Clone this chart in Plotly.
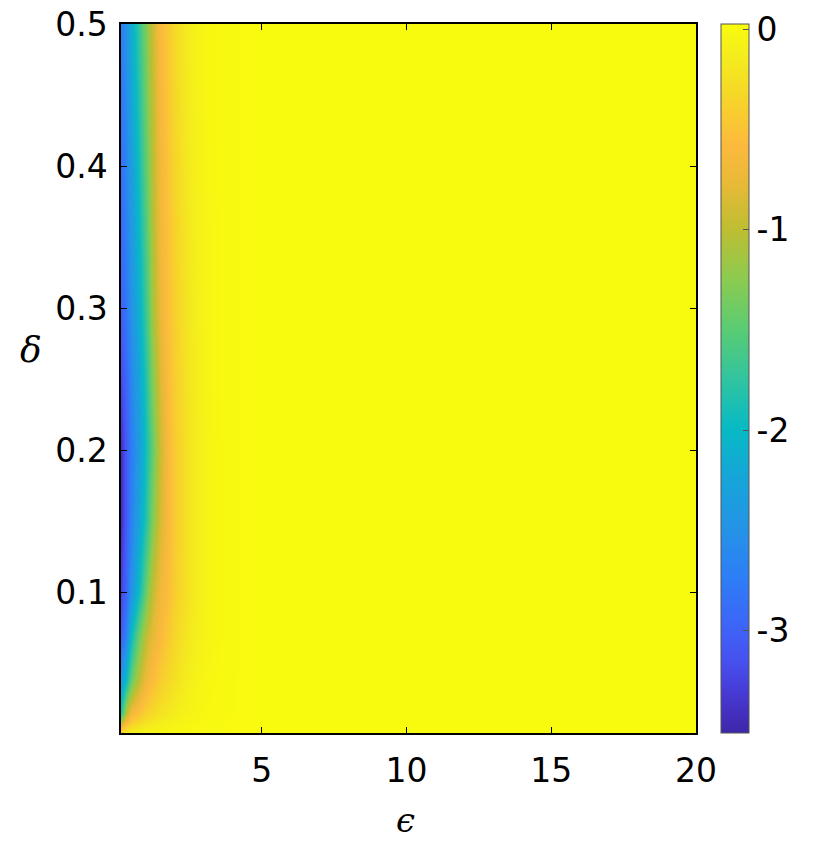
import plotly.graph_objects as go

# epsilon sample positions (x) and delta sample positions (y)
eps = [0.14, 0.3, 0.5, 0.75, 1.0, 1.25, 1.5, 1.75, 2.0, 2.4, 2.8, 3.2, 3.8, 5.0, 20.0]
delta = [0.001, 0.005, 0.015, 0.038, 0.07, 0.1, 0.15, 0.2, 0.25, 0.3, 0.35, 0.4, 0.45, 0.5]

# values, one row per delta
z_d0001 = [-0.3, -0.15, -0.1, -0.07, -0.05, -0.04, -0.03, -0.02, -0.015, -0.01, -0.005, 0.0, 0.01, 0.02, 0.02]
z_d0005 = [-0.65, -0.4, -0.28, -0.2, -0.15, -0.11, -0.08, -0.06, -0.04, -0.02, -0.01, 0.0, 0.01, 0.02, 0.02]
z_d0015 = [-1.8, -1.05, -0.68, -0.5, -0.38, -0.3, -0.23, -0.18, -0.13, -0.08, -0.04, -0.01, 0.005, 0.02, 0.02]
z_d0038 = [-2.4, -2.0, -1.45, -1.0, -0.7, -0.55, -0.42, -0.32, -0.24, -0.14, -0.06, -0.02, 0.005, 0.02, 0.02]
z_d0070 = [-3.05, -2.7, -2.0, -1.4, -1.0, -0.75, -0.6, -0.45, -0.33, -0.2, -0.1, -0.04, 0.0, 0.02, 0.02]
z_d0100 = [-3.25, -2.95, -2.5, -1.95, -1.4, -0.95, -0.7, -0.55, -0.4, -0.25, -0.12, -0.04, 0.0, 0.02, 0.02]
z_d0150 = [-3.4, -3.05, -2.7, -2.25, -1.8, -1.25, -0.88, -0.6, -0.42, -0.25, -0.12, -0.04, 0.0, 0.02, 0.02]
z_d0200 = [-3.4, -3.05, -2.75, -2.35, -1.9, -1.4, -0.95, -0.6, -0.42, -0.25, -0.12, -0.04, 0.0, 0.02, 0.02]
z_d0250 = [-3.2, -2.95, -2.65, -2.25, -1.8, -1.25, -0.85, -0.56, -0.4, -0.23, -0.11, -0.03, 0.0, 0.02, 0.02]
z_d0300 = [-3.0, -2.8, -2.5, -2.1, -1.65, -1.1, -0.75, -0.52, -0.38, -0.22, -0.1, -0.03, 0.0, 0.02, 0.02]
z_d0350 = [-2.92, -2.72, -2.42, -2.0, -1.55, -1.05, -0.7, -0.5, -0.36, -0.2, -0.09, -0.03, 0.0, 0.02, 0.02]
z_d0400 = [-2.85, -2.65, -2.35, -1.9, -1.45, -1.0, -0.68, -0.48, -0.34, -0.18, -0.08, -0.02, 0.0, 0.02, 0.02]
z_d0450 = [-2.78, -2.57, -2.25, -1.8, -1.37, -0.95, -0.64, -0.46, -0.32, -0.16, -0.07, -0.02, 0.0, 0.02, 0.02]
z_d0500 = [-2.7, -2.5, -2.15, -1.7, -1.3, -0.9, -0.6, -0.45, -0.3, -0.15, -0.06, -0.02, 0.0, 0.02, 0.02]

z = [z_d0001, z_d0005, z_d0015, z_d0038, z_d0070, z_d0100, z_d0150, z_d0200,
     z_d0250, z_d0300, z_d0350, z_d0400, z_d0450, z_d0500]

x_ticks = [5, 10, 15, 20]
y_ticks = [0.1, 0.2, 0.3, 0.4, 0.5]
y_ticklabels = ["0.1", "0.2", "0.3", "0.4", "0.5"]
cb_ticks = [0, -1, -2, -3]
cb_ticklabels = ["0", "-1", "-2", "-3"]
z_min, z_max = -3.51, 0.025

parula = [
    [0.00, "rgb(62,38,168)"],
    [0.05, "rgb(70,55,207)"],
    [0.10, "rgb(71,80,239)"],
    [0.15, "rgb(61,100,247)"],
    [0.22, "rgb(45,126,245)"],
    [0.29, "rgb(36,148,230)"],
    [0.36, "rgb(22,165,216)"],
    [0.43, "rgb(7,186,196)"],
    [0.50, "rgb(50,196,159)"],
    [0.57, "rgb(90,204,115)"],
    [0.64, "rgb(140,203,80)"],
    [0.71, "rgb(190,190,50)"],
    [0.78, "rgb(235,185,55)"],
    [0.83, "rgb(252,186,61)"],
    [0.90, "rgb(246,215,40)"],
    [0.95, "rgb(244,235,30)"],
    [1.00, "rgb(249,251,14)"],
]

FIG_W, FIG_H = 830, 852
L, R, T, B = 121, 696, 24, 733  # plot-area edges in window pixels

tick_font = dict(family="DejaVu Sans, sans-serif", size=33, color="black")

fig = go.Figure(go.Heatmap(
    x=eps, y=delta, z=z,
    zsmooth="best",
    colorscale=parula, zmin=z_min, zmax=z_max,
    colorbar=dict(
        x=(721 - L) / (R - L), xanchor="left", xref="paper",
        y=0.5, yanchor="middle", len=1.0, lenmode="fraction",
        thickness=28, thicknessmode="pixels",
        outlinewidth=1, outlinecolor="#555555",
        tickvals=cb_ticks, ticktext=cb_ticklabels,
        ticks="inside", ticklen=6, tickcolor="#555555",
        tickfont=tick_font, ypad=0, xpad=0,
        ticklabeloverflow="allow",
    ),
))

fig.update_layout(
    width=FIG_W, height=FIG_H,
    margin=dict(l=L, r=FIG_W - R, t=T, b=FIG_H - B, autoexpand=False),
    paper_bgcolor="white", plot_bgcolor="white",
    xaxis=dict(range=[0.14, 20], tickvals=x_ticks, ticks="inside", ticklen=6,
               tickcolor="black", showline=True, linecolor="black", linewidth=1.5,
               mirror="ticks", showgrid=False, zeroline=False, tickfont=tick_font,
               ticklabelstandoff=8, ticklabeloverflow="allow"),
    yaxis=dict(range=[0.001, 0.5003], tickvals=y_ticks, ticktext=y_ticklabels,
               ticks="inside", ticklen=6,
               tickcolor="black", showline=True, linecolor="black", linewidth=1.5,
               mirror="ticks", showgrid=False, zeroline=False, tickfont=tick_font,
               ticklabelstandoff=5, ticklabeloverflow="allow"),
)

def label(text, px, py, size):
    # px, py: centre of the label in window pixels
    fig.add_annotation(
        text=text, showarrow=False, xref="paper", yref="paper",
        x=(px - L) / (R - L), y=1 - (py - T) / (B - T),
        xanchor="center", yanchor="middle",
        font=dict(family="DejaVu Serif, serif", size=size, color="black"),
    )

label("<i>ϵ</i>", 405, 820, 34)
label("<i>δ</i>", 31, 350, 36)

# remove the browser's default 8px body margin so the figure fills the window exactly
fig.write_html("out.html", config={"displayModeBar": False},
               post_script="document.body.style.margin='0';")
